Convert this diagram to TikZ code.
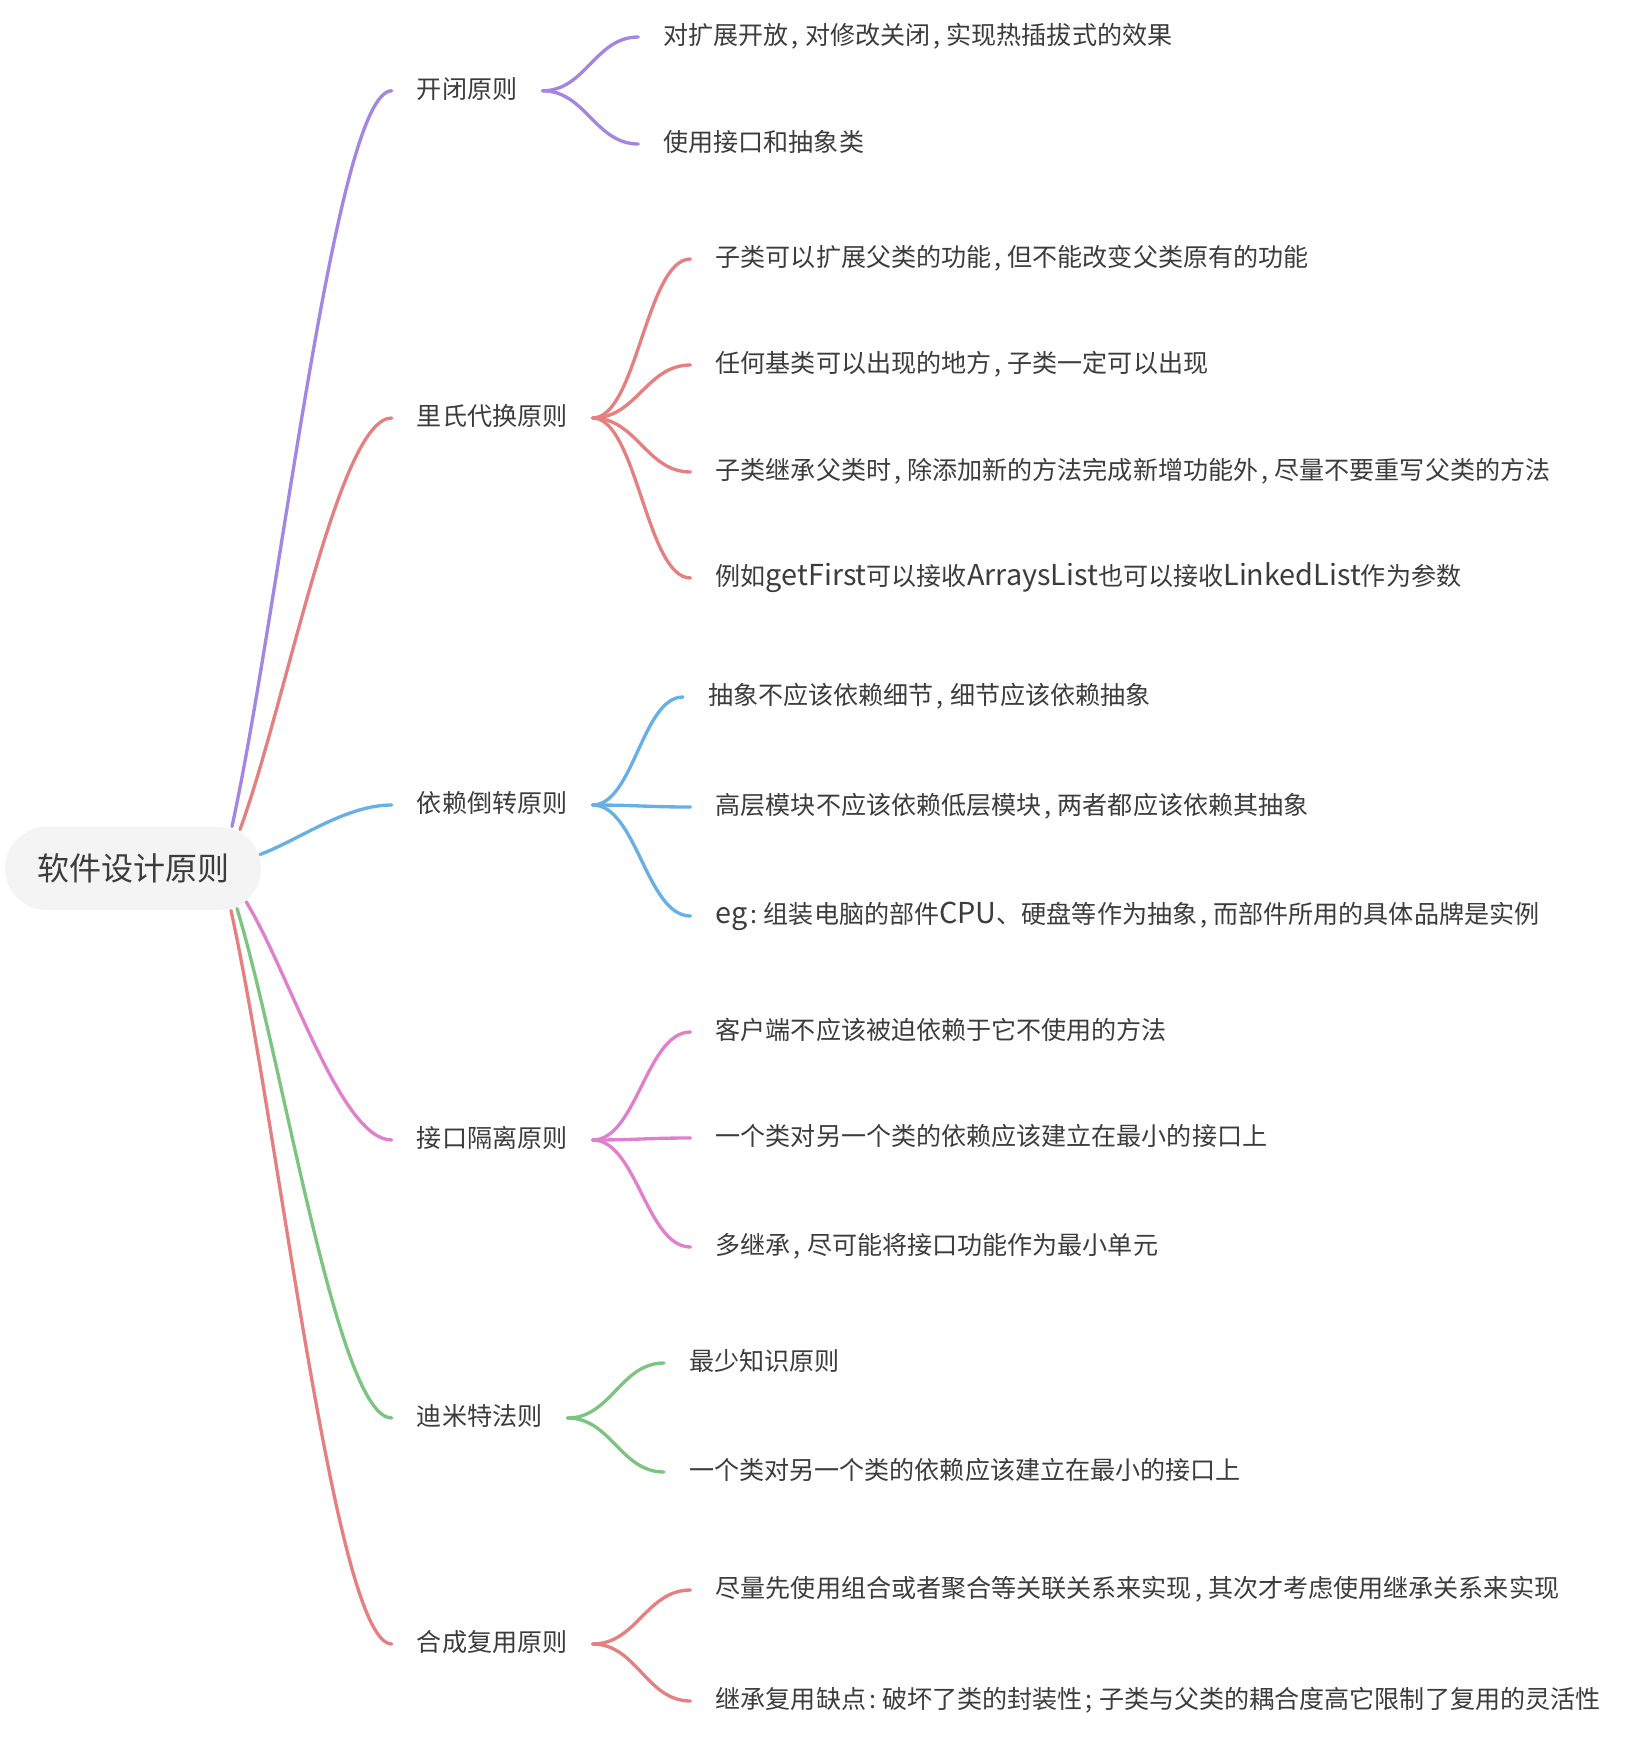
\documentclass[tikz,border=0pt]{standalone}
\usepackage{fontspec}
\setmainfont{Noto Sans CJK SC}
\usetikzlibrary{calc,backgrounds}

\definecolor{purp}{RGB}{164,134,226}
\definecolor{lred}{RGB}{229,128,128}
\definecolor{lblue}{RGB}{102,176,230}
\definecolor{lpink}{RGB}{224,128,204}
\definecolor{lgreen}{RGB}{124,196,130}
\definecolor{rootfill}{RGB}{244,244,244}
\definecolor{txt}{RGB}{60,60,60}

\newcommand\lat[1]{{\fontsize{21.6}{22}\selectfont #1}}
\newcommand\cm{\kern0.12em,\kern0.25em}
\newcommand\cl{\kern0.12em:\kern0.25em}
\newcommand\sm{\kern0.12em;\kern0.25em}

\tikzset{
  rootbox/.style={fill=rootfill, rounded corners=31pt, minimum width=192pt, minimum height=62.3pt,
    inner sep=0pt, text=txt, font=\fontsize{24}{26}\selectfont},
  topic/.style={anchor=west, inner xsep=18.75pt, inner ysep=0pt, text=txt,
    text height=1.1em, text depth=0em, font=\fontsize{18.8}{22}\selectfont},
  leaf/.style={topic},
  branch/.style={line width=2.5pt, line cap=round},
}

\begin{document}
\begin{tikzpicture}[x=0.75pt,y=0.75pt,yscale=-1,xscale=1]
\useasboundingbox (0,0) rectangle (1634,1741);

% Root
\node[rootbox] (root) at (133,868.5) {软件设计原则};

% Text Node: main topics
\node[topic] (kb)  at (391.7,90.8)  {开闭原则};
\node[topic] (lsh) at (391.7,418)   {里氏代换原则};
\node[topic] (yl)  at (391.7,805)   {依赖倒转原则};
\node[topic] (jk)  at (391.7,1140)  {接口隔离原则};
\node[topic] (dm)  at (391.7,1418)  {迪米特法则};
\node[topic] (hc)  at (391.7,1644)  {合成复用原则};

% Text Node: 开闭原则
\node[leaf] (kb1) at (638.3,37)  {对扩展开放\cm 对修改关闭\cm 实现热插拔式的效果};
\node[leaf] (kb2) at (638.3,144) {使用接口和抽象类};

% Text Node: 里氏代换原则
\node[leaf] (lsh1) at (690.5,259) {子类可以扩展父类的功能\cm 但不能改变父类原有的功能};
\node[leaf] (lsh2) at (690.5,365) {任何基类可以出现的地方\cm 子类一定可以出现};
\node[leaf] (lsh3) at (690.5,472) {子类继承父类时\cm 除添加新的方法完成新增功能外\cm 尽量不要重写父类的方法};
\node[leaf] (lsh4) at (690.5,578) {例如\lat{getFirst}可以接收\lat{ArraysList}也可以接收\lat{LinkedList}作为参数};

% Text Node: 依赖倒转原则
\node[leaf] (yl1) at (683,697)   {抽象不应该依赖细节\cm 细节应该依赖抽象};
\node[leaf] (yl2) at (690.5,807) {高层模块不应该依赖低层模块\cm 两者都应该依赖其抽象};
\node[leaf] (yl3) at (690.5,916) {\lat{eg}\cl 组装电脑的部件\lat{CPU}、硬盘等作为抽象\cm 而部件所用的具体品牌是实例};

% Text Node: 接口隔离原则
\node[leaf] (jk1) at (690.5,1032) {客户端不应该被迫依赖于它不使用的方法};
\node[leaf] (jk2) at (690.5,1138) {一个类对另一个类的依赖应该建立在最小的接口上};
\node[leaf] (jk3) at (690.5,1247) {多继承\cm 尽可能将接口功能作为最小单元};

% Text Node: 迪米特法则
\node[leaf] (dm1) at (664,1363) {最少知识原则};
\node[leaf] (dm2) at (664,1472) {一个类对另一个类的依赖应该建立在最小的接口上};

% Text Node: 合成复用原则
\node[leaf] (hc1) at (690.5,1590) {尽量先使用组合或者聚合等关联关系来实现\cm 其次才考虑使用继承关系来实现};
\node[leaf] (hc2) at (690.5,1701) {继承复用缺点\cl 破坏了类的封装性\sm 子类与父类的耦合度高它限制了复用的灵活性};

% start points on the root border
\coordinate (rkb)  at ($(root.center)+(99,-42)$);
\coordinate (rlsh) at ($(root.center)+(107,-39)$);
\coordinate (ryl)  at ($(root.center)+(127,-14)$);
\coordinate (rjk)  at ($(root.center)+(113,33)$);
\coordinate (rdm)  at ($(root.center)+(104,40)$);
\coordinate (rhc)  at ($(root.center)+(98,42)$);

\begin{pgfonlayer}{background}
%Curve Lines: root to topics
\draw[branch,purp]   (rkb)  .. controls ($(rkb)!0.3!(kb.west)$)   and ($(kb.west)!0.35!(kb.west-|rkb)$)   .. (kb.west);
\draw[branch,lred]   (rlsh) .. controls ($(rlsh)!0.3!(lsh.west)$) and ($(lsh.west)!0.35!(lsh.west-|rlsh)$) .. (lsh.west);
\draw[branch,lblue]  (ryl)  .. controls ($(ryl)!0.3!(yl.west)$)   and ($(yl.west)!0.35!(yl.west-|ryl)$)   .. (yl.west);
\draw[branch,lpink]  (rjk)  .. controls ($(rjk)!0.3!(jk.west)$)   and ($(jk.west)!0.35!(jk.west-|rjk)$)   .. (jk.west);
\draw[branch,lgreen] (rdm)  .. controls ($(rdm)!0.3!(dm.west)$)   and ($(dm.west)!0.35!(dm.west-|rdm)$)   .. (dm.west);
\draw[branch,lred]   (rhc)  .. controls ($(rhc)!0.3!(hc.west)$)   and ($(hc.west)!0.35!(hc.west-|rhc)$)   .. (hc.west);

%Curve Lines: 开闭原则
\draw[branch,purp] (kb.east) .. controls ($(kb.east)!0.45!(kb.east-|kb1.west)$) and ($(kb1.west)!0.45!(kb1.west-|kb.east)$) .. (kb1.west);
\draw[branch,purp] (kb.east) .. controls ($(kb.east)!0.45!(kb.east-|kb2.west)$) and ($(kb2.west)!0.45!(kb2.west-|kb.east)$) .. (kb2.west);

%Curve Lines: 里氏代换原则
\draw[branch,lred] (lsh.east) .. controls ($(lsh.east)!0.45!(lsh.east-|lsh1.west)$) and ($(lsh1.west)!0.45!(lsh1.west-|lsh.east)$) .. (lsh1.west);
\draw[branch,lred] (lsh.east) .. controls ($(lsh.east)!0.45!(lsh.east-|lsh2.west)$) and ($(lsh2.west)!0.45!(lsh2.west-|lsh.east)$) .. (lsh2.west);
\draw[branch,lred] (lsh.east) .. controls ($(lsh.east)!0.45!(lsh.east-|lsh3.west)$) and ($(lsh3.west)!0.45!(lsh3.west-|lsh.east)$) .. (lsh3.west);
\draw[branch,lred] (lsh.east) .. controls ($(lsh.east)!0.45!(lsh.east-|lsh4.west)$) and ($(lsh4.west)!0.45!(lsh4.west-|lsh.east)$) .. (lsh4.west);

%Curve Lines: 依赖倒转原则
\draw[branch,lblue] (yl.east) .. controls ($(yl.east)!0.45!(yl.east-|yl1.west)$) and ($(yl1.west)!0.45!(yl1.west-|yl.east)$) .. (yl1.west);
\draw[branch,lblue] (yl.east) .. controls ($(yl.east)!0.45!(yl.east-|yl2.west)$) and ($(yl2.west)!0.45!(yl2.west-|yl.east)$) .. (yl2.west);
\draw[branch,lblue] (yl.east) .. controls ($(yl.east)!0.45!(yl.east-|yl3.west)$) and ($(yl3.west)!0.45!(yl3.west-|yl.east)$) .. (yl3.west);

%Curve Lines: 接口隔离原则
\draw[branch,lpink] (jk.east) .. controls ($(jk.east)!0.45!(jk.east-|jk1.west)$) and ($(jk1.west)!0.45!(jk1.west-|jk.east)$) .. (jk1.west);
\draw[branch,lpink] (jk.east) .. controls ($(jk.east)!0.45!(jk.east-|jk2.west)$) and ($(jk2.west)!0.45!(jk2.west-|jk.east)$) .. (jk2.west);
\draw[branch,lpink] (jk.east) .. controls ($(jk.east)!0.45!(jk.east-|jk3.west)$) and ($(jk3.west)!0.45!(jk3.west-|jk.east)$) .. (jk3.west);

%Curve Lines: 迪米特法则
\draw[branch,lgreen] (dm.east) .. controls ($(dm.east)!0.45!(dm.east-|dm1.west)$) and ($(dm1.west)!0.45!(dm1.west-|dm.east)$) .. (dm1.west);
\draw[branch,lgreen] (dm.east) .. controls ($(dm.east)!0.45!(dm.east-|dm2.west)$) and ($(dm2.west)!0.45!(dm2.west-|dm.east)$) .. (dm2.west);

%Curve Lines: 合成复用原则
\draw[branch,lred] (hc.east) .. controls ($(hc.east)!0.45!(hc.east-|hc1.west)$) and ($(hc1.west)!0.45!(hc1.west-|hc.east)$) .. (hc1.west);
\draw[branch,lred] (hc.east) .. controls ($(hc.east)!0.45!(hc.east-|hc2.west)$) and ($(hc2.west)!0.45!(hc2.west-|hc.east)$) .. (hc2.west);
\end{pgfonlayer}

\end{tikzpicture}
\end{document}
